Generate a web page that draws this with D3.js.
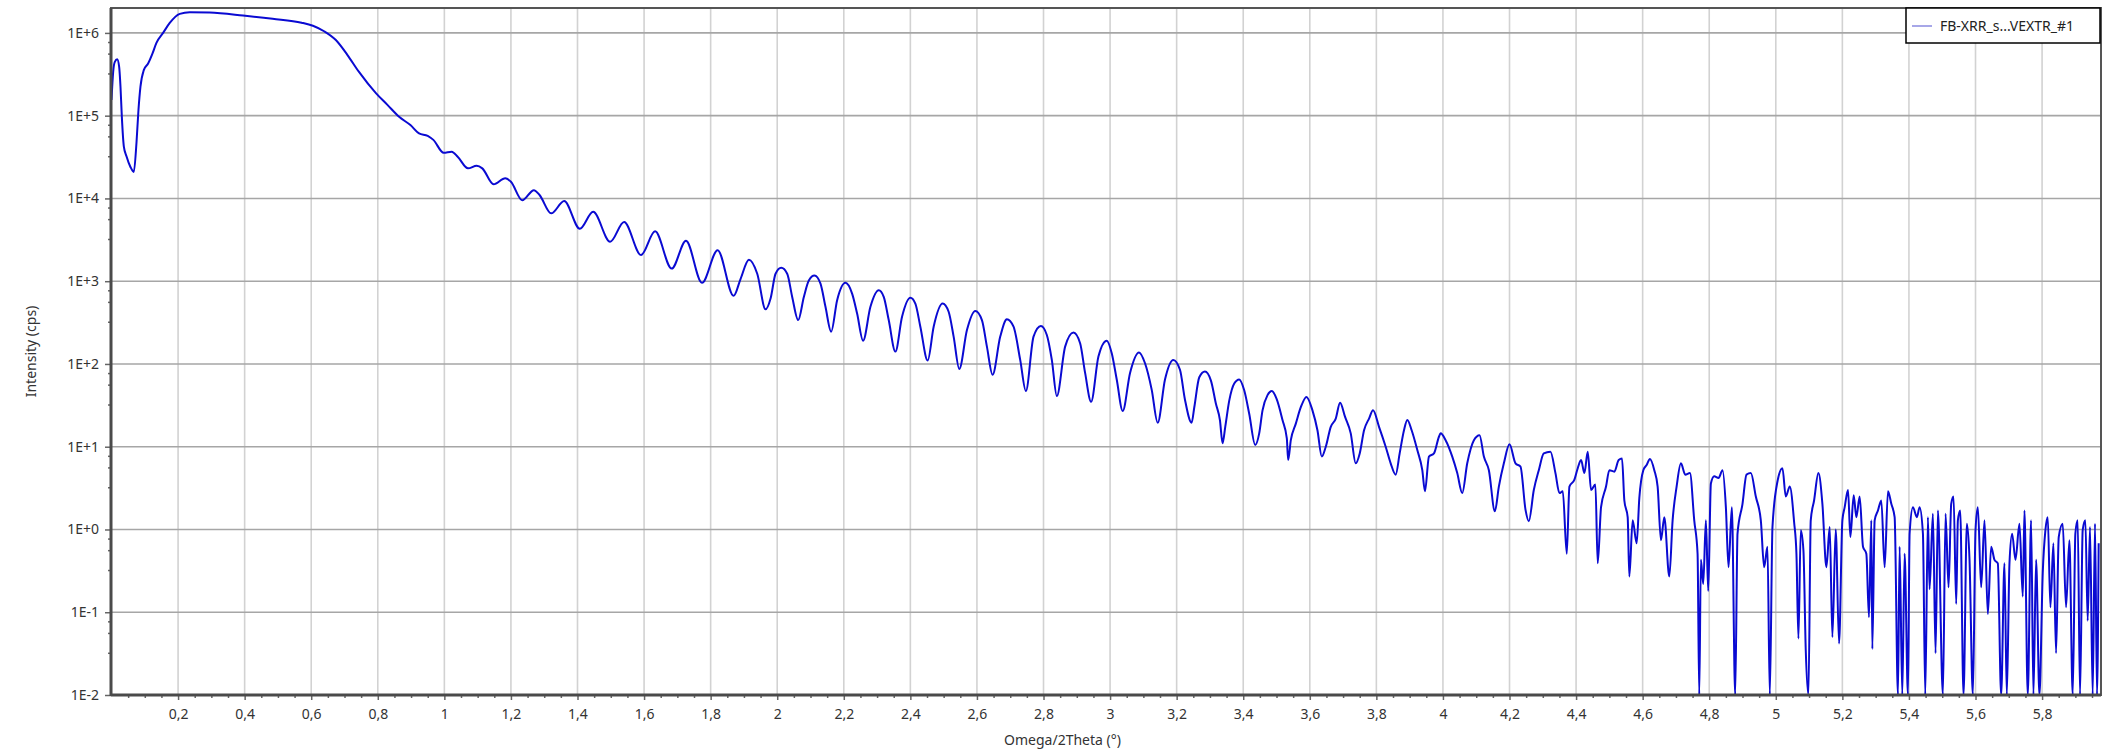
<!DOCTYPE html>
<html>
<head>
<meta charset="utf-8">
<script src="https://cdn.jsdelivr.net/npm/d3@7"></script>
<style>
  body { margin: 0; background: #fff; }
  text { font-family: "Noto Sans", "Open Sans", sans-serif; fill: #333; }
</style>
</head>
<body>
<div id="graph"></div>
<script>
// scan values (2theta in degrees, intensity in cps, 0 = no counts)
var twoTheta = [
  0.000, 0.005, 0.010, 0.017, 0.023, 0.027, 0.031, 0.037, 0.045, 0.057, 0.067, 0.075, 0.081, 0.087, 0.097,
  0.110, 0.123, 0.135, 0.155, 0.175, 0.205, 0.235, 0.295, 0.395, 0.484, 0.571, 0.605, 0.640, 0.674, 0.709,
  0.743, 0.795, 0.829, 0.864, 0.898, 0.924, 0.950, 0.967, 0.998, 1.022, 1.040, 1.071, 1.097, 1.114, 1.148,
  1.183, 1.200, 1.234, 1.269, 1.286, 1.321, 1.360, 1.407, 1.447, 1.498, 1.540, 1.591, 1.633, 1.683, 1.726,
  1.774, 1.821, 1.869, 1.890, 1.915, 1.940, 1.965, 1.980, 1.995, 2.012, 2.030, 2.045, 2.063, 2.080, 2.095,
  2.112, 2.130, 2.145, 2.162, 2.180, 2.205, 2.225, 2.240, 2.258, 2.280, 2.305, 2.320, 2.335, 2.355, 2.375,
  2.400, 2.415, 2.430, 2.452, 2.470, 2.497, 2.515, 2.530, 2.547, 2.570, 2.595, 2.615, 2.630, 2.647, 2.670,
  2.690, 2.710, 2.730, 2.747, 2.770, 2.792, 2.810, 2.825, 2.840, 2.865, 2.890, 2.910, 2.925, 2.943, 2.965,
  2.990, 3.005, 3.020, 3.038, 3.060, 3.087, 3.105, 3.125, 3.143, 3.165, 3.190, 3.210, 3.225, 3.245, 3.253,
  3.268, 3.285, 3.303, 3.318, 3.330, 3.338, 3.346, 3.358, 3.373, 3.388, 3.403, 3.418, 3.436, 3.448, 3.458,
  3.473, 3.486, 3.500, 3.518, 3.531, 3.535, 3.543, 3.558, 3.573, 3.590, 3.608, 3.623, 3.636, 3.648, 3.663,
  3.678, 3.691, 3.706, 3.723, 3.738, 3.750, 3.763, 3.778, 3.790, 3.808, 3.828, 3.843, 3.858, 3.870, 3.883,
  3.893, 3.906, 3.923, 3.938, 3.946, 3.958, 3.973, 3.988, 3.993, 4.008, 4.028, 4.043, 4.058, 4.073, 4.093,
  4.110, 4.123, 4.138, 4.156, 4.168, 4.183, 4.200, 4.218, 4.233, 4.248, 4.258, 4.273, 4.288, 4.303, 4.323,
  4.338, 4.350, 4.360, 4.372, 4.380, 4.395, 4.405, 4.415, 4.425, 4.435, 4.445, 4.458, 4.465, 4.475, 4.490,
  4.500, 4.515, 4.528, 4.538, 4.545, 4.555, 4.560, 4.570, 4.582, 4.590, 4.602, 4.612, 4.622, 4.635, 4.645,
  4.655, 4.665, 4.680, 4.690, 4.702, 4.715, 4.728, 4.742, 4.755, 4.765, 4.770, 4.775, 4.782, 4.790, 4.797,
  4.805, 4.815, 4.828, 4.840, 4.850, 4.858, 4.868, 4.878, 4.885, 4.900, 4.912, 4.925, 4.940, 4.955, 4.965,
  4.975, 4.982, 4.990, 5.005, 5.020, 5.030, 5.042, 5.055, 5.062, 5.068, 5.075, 5.083, 5.090, 5.098, 5.105,
  5.115, 5.128, 5.140, 5.152, 5.162, 5.170, 5.180, 5.190, 5.200, 5.207, 5.217, 5.224, 5.234, 5.242, 5.252,
  5.262, 5.272, 5.280, 5.287, 5.290, 5.297, 5.307, 5.317, 5.327, 5.337, 5.347, 5.357, 5.367, 5.372, 5.380,
  5.387, 5.397, 5.402, 5.412, 5.424, 5.432, 5.442, 5.449, 5.457, 5.462, 5.472, 5.480, 5.487, 5.502, 5.510,
  5.519, 5.527, 5.534, 5.542, 5.547, 5.554, 5.564, 5.574, 5.582, 5.592, 5.600, 5.607, 5.617, 5.627, 5.637,
  5.647, 5.657, 5.667, 5.677, 5.687, 5.694, 5.702, 5.710, 5.720, 5.732, 5.742, 5.747, 5.757, 5.767, 5.774,
  5.782, 5.792, 5.802, 5.810, 5.817, 5.825, 5.834, 5.842, 5.850, 5.862, 5.872, 5.882, 5.892, 5.900, 5.907,
  5.914, 5.922, 5.930, 5.937, 5.944, 5.952, 5.959, 5.965, 5.970
];
var intensity = [
  1.55e5, 3.39e5, 4.47e5, 4.79e5, 3.89e5, 2.24e5, 9.8e4, 4.27e4, 3.24e4, 2.4e4, 2.09e4, 4.68e4, 1.17e5, 2.24e5, 3.55e5,
  4.27e5, 5.62e5, 7.59e5, 1.0e6, 1.32e6, 1.70e6, 1.78e6, 1.76e6, 1.62e6, 1.48e6, 1.33e6, 1.22e6, 1.04e6, 8.2e5, 5.4e5,
  3.4e5, 1.86e5, 1.35e5, 9.7e4, 7.7e4, 6.1e4, 5.7e4, 5.1e4, 3.56e4, 3.67e4, 3.19e4, 2.31e4, 2.48e4, 2.31e4, 1.48e4,
  1.75e4, 1.59e4, 9.5e3, 1.26e4, 1.10e4, 6.6e3, 9.3e3, 4.3e3, 6.9e3, 3.0e3, 5.2e3, 2.07e3, 4.0e3, 1.42e3, 3.08e3,
  955, 2370, 665, 1070, 1820, 1230, 457, 617, 1230, 1450, 1230, 646, 339, 646, 1020,
  1170, 933, 490, 245, 589, 955, 708, 407, 191, 490, 776, 646, 339, 141, 372,
  631, 537, 282, 110, 282, 537, 427, 214, 87, 257, 437, 339, 162, 74, 214,
  347, 282, 112, 47, 214, 288, 224, 112, 41, 162, 240, 178, 78, 35, 123,
  191, 135, 65, 27, 78, 138, 102, 49, 19.5, 65, 112, 85, 37, 19.5, 30,
  69, 81, 63, 33, 21, 11, 17.4, 36, 58, 65, 48, 25, 10.5, 14.5, 27.5,
  42, 47, 38, 21, 12.6, 6.9, 12, 19, 30, 40, 27.5, 15.8, 7.6, 10, 17.4,
  21.9, 34, 22.9, 14.5, 6.3, 8.3, 15.8, 21.9, 27.5, 17.4, 10, 6.3, 4.6, 8.3, 15.8,
  21, 15.8, 9.1, 5.2, 2.9, 7.6, 8.3, 13.2, 14.5, 12, 7.6, 4.8, 2.75, 6.3, 12,
  13.8, 7.6, 5.2, 1.66, 3.3, 6.3, 10.7, 6.3, 5.75, 1.74, 1.26, 3.0, 5.2, 8.3, 8.7,
  4.8, 2.75, 2.9, 0.51, 3.3, 4.0, 5.5, 6.9, 4.8, 8.7, 3.0, 3.5, 0.39, 1.86, 3.3,
  5.2, 5.0, 6.9, 7.2, 2.24, 1.41, 0.27, 1.29, 0.68, 2.4, 5.2, 6.0, 7.1, 5.2, 3.3,
  0.74, 1.41, 0.27, 1.29, 3.3, 6.3, 4.6, 4.8, 1.29, 0.51, 0, 0.43, 0.22, 1.29, 0.18,
  3.6, 4.4, 4.2, 5.2, 1.86, 0.35, 1.86, 0, 0.89, 2.04, 4.6, 4.8, 2.5, 1.29, 0.35,
  0.62, 0, 1.07, 3.8, 5.5, 2.5, 3.3, 1.23, 0.51, 0.048, 0.98, 0.56, 0.035, 0, 1.29,
  2.24, 4.8, 2.04, 0.35, 1.07, 0.05, 1.0, 0.042, 1.29, 1.86, 3.0, 0.81, 2.6, 1.41, 2.5,
  0.62, 0.51, 0.087, 1.29, 0.036, 1.29, 1.7, 2.24, 0.35, 2.9, 2.04, 1.41, 0, 0.62, 0,
  0.51, 0, 0.89, 1.86, 1.41, 1.86, 0.89, 0, 1.41, 0.19, 1.55, 0.032, 1.7, 0, 1.55,
  0.2, 2.04, 2.5, 0.126, 1.29, 1.7, 0, 1.17, 0.43, 0, 0.98, 1.86, 0.2, 1.29, 0.095,
  0.62, 0.43, 0.39, 0, 0.39, 0, 0.39, 0.89, 0.43, 1.17, 0.155, 1.7, 0, 1.29, 0,
  0.43, 0, 0.3, 0.98, 1.41, 0.115, 0.68, 0.032, 0.81, 1.17, 0.115, 0.74, 0, 0.89, 1.29,
  0, 0.98, 1.29, 0.079, 1.07, 0, 1.17, 0, 0.68
];
// axis ticks
var xTicks = [0.2, 0.4, 0.6, 0.8, 1, 1.2, 1.4, 1.6, 1.8, 2, 2.2, 2.4, 2.6, 2.8, 3, 3.2, 3.4, 3.6, 3.8, 4,
  4.2, 4.4, 4.6, 4.8, 5, 5.2, 5.4, 5.6, 5.8];
var yTicks = [1e-2, 1e-1, 1e0, 1e1, 1e2, 1e3, 1e4, 1e5, 1e6];
var yTickLabels = ["1E-2", "1E-1", "1E+0", "1E+1", "1E+2", "1E+3", "1E+4", "1E+5", "1E+6"];
var seriesName = "FB-XRR_s...VEXTR_#1";

var chartWidth = 2125;
var chartHeight = 755;
var plotLeft = 111, plotRight = 2101, plotTop = 8, plotBottom = 695;

var svg = d3.select("#graph").append("svg")
  .attr("width", chartWidth)
  .attr("height", chartHeight)
  .style("display", "block");

var xScale = d3.scaleLinear().domain([0, 5.977]).range([plotLeft + 0.5, plotRight]);
var yScale = d3.scaleLog().domain([1e-2, 2e6]).range([plotBottom, plotTop]).clamp(true);

// grid
svg.append("g").selectAll("line").data(xTicks).enter().append("line")
  .attr("x1", function (d) { return xScale(d); })
  .attr("x2", function (d) { return xScale(d); })
  .attr("y1", plotTop).attr("y2", plotBottom)
  .attr("stroke", "#d2d2d2").attr("stroke-width", 1.6);

svg.append("g").selectAll("line").data(yTicks.slice(1)).enter().append("line")
  .attr("x1", plotLeft).attr("x2", plotRight)
  .attr("y1", function (d) { return yScale(d); })
  .attr("y2", function (d) { return yScale(d); })
  .attr("stroke", "#a6a6a6").attr("stroke-width", 1.6);

// minor ticks (x every 0.05, y a few per decade)
var xMinor = d3.range(0.05, 5.96, 0.05).filter(function (d) { return Math.abs(d * 5 - Math.round(d * 5)) > 1e-6; });
var xAxis = d3.axisBottom(xScale).tickValues(xTicks).tickSize(5).tickSizeOuter(0)
  .tickFormat(function (d) { return d3.format("~g")(d).replace(".", ","); });
var xAxisMinor = d3.axisBottom(xScale).tickValues(xMinor).tickSize(3).tickSizeOuter(0).tickFormat("");

var yMinor = [];
yTicks.slice(1).forEach(function (t) {
  [0.11, 0.25, 0.49].forEach(function (f) { yMinor.push(t * Math.pow(10, -f)); });
});
var yAxis = d3.axisLeft(yScale).tickValues(yTicks).tickSize(6).tickSizeOuter(0)
  .tickFormat(function (d, i) { return yTickLabels[i]; });
var yAxisMinor = d3.axisLeft(yScale).tickValues(yMinor).tickSize(3).tickSizeOuter(0).tickFormat("");

var gx = svg.append("g").attr("transform", "translate(0," + plotBottom + ")").call(xAxis);
svg.append("g").attr("transform", "translate(0," + plotBottom + ")").call(xAxisMinor);
var gy = svg.append("g").attr("transform", "translate(" + plotLeft + ",0)").call(yAxis);
svg.append("g").attr("transform", "translate(" + plotLeft + ",0)").call(yAxisMinor);

svg.selectAll(".domain").remove();
svg.selectAll(".tick line").attr("stroke", "#666").attr("stroke-width", 1.5);
gx.selectAll("text").attr("dy", "1.15em").style("font-size", "14px");
gy.selectAll("text").attr("x", -12).style("font-size", "14px");

// curve (monotone keeps the read points, rounds the fringes)
var points = twoTheta.map(function (d, i) { return [d, intensity[i]]; });
var line = d3.line()
  .curve(d3.curveMonotoneX)
  .x(function (d) { return xScale(d[0]); })
  .y(function (d) { return yScale(Math.max(d[1], 1e-2)); });

svg.append("path")
  .datum(points)
  .attr("d", line)
  .attr("fill", "none")
  .attr("stroke", "#0a0ad2")
  .attr("stroke-width", 2)
  .attr("stroke-linejoin", "round");

// frame
svg.append("rect")
  .attr("x", plotLeft).attr("y", plotTop)
  .attr("width", plotRight - plotLeft).attr("height", plotBottom - plotTop)
  .attr("fill", "none").attr("stroke", "#555").attr("stroke-width", 2);
svg.append("line").attr("x1", plotLeft).attr("x2", plotLeft).attr("y1", plotTop).attr("y2", plotBottom + 1)
  .attr("stroke", "#4a4a4a").attr("stroke-width", 3);
svg.append("line").attr("x1", plotLeft).attr("x2", plotRight).attr("y1", plotBottom).attr("y2", plotBottom)
  .attr("stroke", "#4a4a4a").attr("stroke-width", 3);

// axis titles
svg.append("text")
  .attr("x", chartWidth / 2).attr("y", 745)
  .attr("text-anchor", "middle")
  .style("font-size", "14px")
  .text("Omega/2Theta (°)");
svg.append("text")
  .attr("transform", "translate(36," + (plotTop + plotBottom) / 2 + ") rotate(-90)")
  .attr("text-anchor", "middle")
  .style("font-size", "14px")
  .text("Intensity (cps)");

// legend
var legend = svg.append("g");
legend.append("rect")
  .attr("x", 1906).attr("y", plotTop).attr("width", plotRight - 1906 - 1).attr("height", 35)
  .attr("fill", "#fff").attr("stroke", "#000").attr("stroke-width", 1.5);
legend.append("line")
  .attr("x1", 1912).attr("x2", 1932).attr("y1", 26).attr("y2", 26)
  .attr("stroke", "#8a8ae0").attr("stroke-width", 1.5);
legend.append("text")
  .attr("x", 1940).attr("y", 31)
  .style("font-size", "14px").style("fill", "#222")
  .text(seriesName);
</script>
</body>
</html>
